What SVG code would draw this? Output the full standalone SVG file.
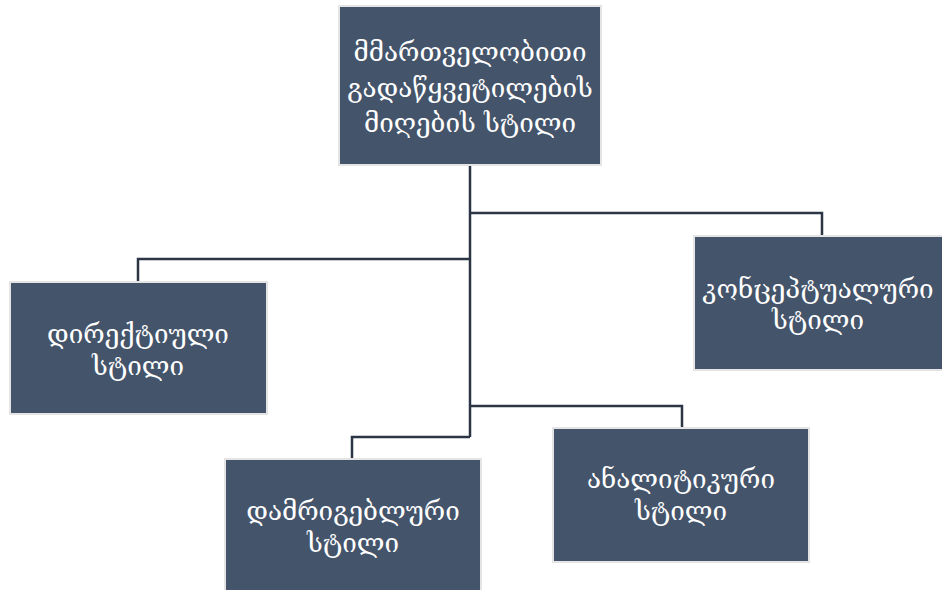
<svg xmlns="http://www.w3.org/2000/svg" width="942" height="590" viewBox="0 0 942 590">
<style>
.box{fill:#44546a;stroke:#e4e4e4;stroke-width:2}
.t{fill:#ffffff;font-family:"DejaVu Serif","DejaVu Sans",serif;font-size:26px;text-anchor:middle}
.c{fill:none;stroke:#2b3544;stroke-width:2.5}
</style>
<rect width="942" height="590" fill="#ffffff"/>
<g id="connectors">
<path class="c" d="M470 166 V437"/>
<path class="c" d="M470 213 H822 V235"/>
<path class="c" d="M470 259 H138 V281"/>
<path class="c" d="M470 406 H682 V427"/>
<path class="c" d="M470 437 H352 V459"/>
</g>
<g id="n-top">
<rect class="box" x="339" y="6" width="262" height="159"/>
<text class="t" x="470" y="61">მმართველობითი</text>
<text class="t" x="470" y="97">გადაწყვეტილების</text>
<text class="t" x="470" y="132">მიღების სტილი</text>
</g>
<g id="n-directive">
<rect class="box" x="10" y="282" width="257" height="132"/>
<text class="t" x="138" y="343">დირექტიული</text>
<text class="t" x="138" y="375">სტილი</text>
</g>
<g id="n-conceptual">
<rect class="box" x="694" y="236" width="250" height="134"/>
<text class="t" x="818" y="298">კონცეპტუალური</text>
<text class="t" x="818" y="329">სტილი</text>
</g>
<g id="n-behavioral">
<rect class="box" x="225" y="459" width="256" height="134"/>
<text class="t" x="353" y="520">დამრიგებლური</text>
<text class="t" x="353" y="552">სტილი</text>
</g>
<g id="n-analytic">
<rect class="box" x="553" y="428" width="256" height="134"/>
<text class="t" x="681" y="488">ანალიტიკური</text>
<text class="t" x="681" y="520">სტილი</text>
</g>
</svg>
